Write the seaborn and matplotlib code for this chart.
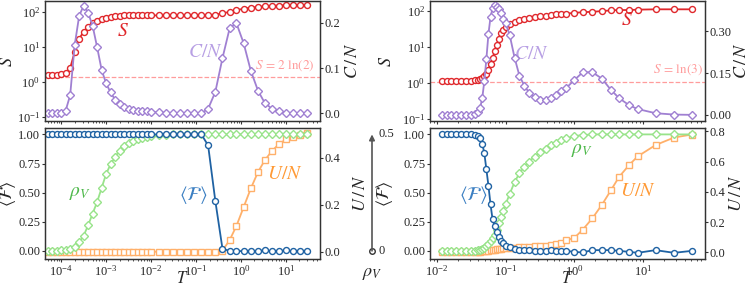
import numpy as np
import matplotlib
matplotlib.use('Agg')
import matplotlib.pyplot as plt
import matplotlib.ticker as mticker
import seaborn as sns

sns.set_theme(style='ticks')
plt.rcParams['font.family'] = ['Liberation Serif', 'DejaVu Serif']
plt.rcParams['mathtext.fontset'] = 'stix'

# ---------------- data ----------------
# left panel, log10(T)
LOGT_L = [-4.3, -4.2, -4.1, -4.0, -3.9, -3.8, -3.7, -3.6, -3.5, -3.4, -3.3, -3.2,
          -3.1, -3.0, -2.9, -2.8, -2.7, -2.6, -2.5, -2.4, -2.3, -2.2, -2.1,
          -1.99, -1.83, -1.67, -1.51, -1.36, -1.20, -1.04, -0.88, -0.73, -0.57,
          -0.41, -0.25, -0.10, 0.06, 0.22, 0.38, 0.53, 0.69, 0.85, 1.01, 1.16,
          1.32, 1.48]
S_L = [1.58, 1.58, 1.58, 1.66, 1.82, 2.5, 7.2, 17, 27.5, 37, 47, 54, 62, 68, 72,
       76, 78, 79.4, 79.4, 79.4, 79.4, 79.4, 79.4,
       79.4, 79.4, 80, 80, 80, 80.5, 81, 81, 81, 83, 91, 100, 112, 123, 132, 138,
       145, 148, 151, 155, 155, 155, 155]
C_L = [0.0, 0.0, 0.0, 0.001, 0.006, 0.04, 0.15, 0.215, 0.238, 0.222, 0.193, 0.146,
       0.096, 0.066, 0.046, 0.03, 0.02, 0.014, 0.01, 0.008, 0.006, 0.005, 0.004,
       0.003, 0.002, 0.001, 0.0, 0.0, 0.0, 0.0, 0.0, 0.01, 0.047, 0.122, 0.188,
       0.199, 0.155, 0.094, 0.05, 0.023, 0.01, 0.004, 0.001, 0.0, 0.0, 0.0]
F_L = [1.0] * 23 + [1.0, 1.0, 1.0, 1.0, 1.0, 1.0, 1.0, 1.0, 0.906, 0.43, 0.017,
                    0.0, -0.005, 0.0, -0.004, 0.0, 0.003, -0.003, 0.0, 0.003,
                    -0.002, 0.0, 0.0]
RHO_L = [0.0, 0.0, 0.0, 0.002, 0.004, 0.008, 0.017, 0.036, 0.065, 0.11, 0.16, 0.21,
         0.27, 0.33, 0.372, 0.403, 0.43, 0.45, 0.463, 0.472, 0.479, 0.484, 0.488,
         0.494, 0.497, 0.499] + [0.5] * 20
U_L = [0.0] * 23 + [0.0] * 10 + [0.005, 0.05, 0.11, 0.19, 0.27, 0.34, 0.39, 0.43,
                                 0.46, 0.48, 0.49, 0.5, 0.505]

# right panel, log10(T)
LOGT_R = [-1.93, -1.86, -1.79, -1.72, -1.65, -1.58, -1.51, -1.44,
          -1.40, -1.37, -1.34, -1.31, -1.28, -1.25, -1.22, -1.19, -1.16, -1.13,
          -1.10, -1.07, -1.04,
          -1.00, -0.94, -0.87, -0.80, -0.73, -0.66, -0.58, -0.50, -0.42, -0.34,
          -0.27, -0.19, -0.12,
          0.0, 0.12, 0.26, 0.40, 0.53, 0.65, 0.80, 0.92, 1.18, 1.45, 1.71]
S_R = [1.16] * 7 + [1.19,
       1.23, 1.29, 1.41, 1.58, 1.78, 2.34, 3.39, 5.0, 7.6, 11.5, 16.6, 24, 29.5,
       35.5, 42.7, 49, 56, 60, 64.6, 67.6, 70.8, 74, 77.6, 81.3, 83.2, 85.1,
       89.1, 93.3, 95.5, 100, 104.7, 107, 107, 109.6, 112, 112, 112]
C_R = [0.0] * 7 + [0.004,
       0.012, 0.026, 0.06, 0.12, 0.2, 0.29, 0.35, 0.382, 0.392, 0.388, 0.378, 0.365, 0.345,
       0.328, 0.285, 0.205, 0.141, 0.105, 0.08, 0.063, 0.055, 0.054, 0.062, 0.072, 0.084, 0.096,
       0.125, 0.152, 0.153, 0.13, 0.09, 0.06, 0.034, 0.021, 0.006, 0.001, 0.0]
F_R = [1.0] * 7 + [0.995,
       0.985, 0.965, 0.92, 0.84, 0.7, 0.56, 0.4, 0.27, 0.21, 0.165, 0.115, 0.085, 0.064,
       0.045, 0.03, 0.018, 0.01, 0.005, 0.003, 0.002, 0.0, 0.002, 0.006, 0.0, 0.0, 0.0,
       -0.009, -0.014, 0.006, 0.006, 0.006, 0.0, -0.009, -0.017, 0.006, -0.017, 0.0]
RHO_R = [0.0] * 8 + [
       0.0015, 0.003, 0.006, 0.011, 0.019, 0.03, 0.043, 0.055, 0.07, 0.09, 0.12, 0.145, 0.17,
       0.2, 0.245, 0.295, 0.333, 0.36, 0.383, 0.405, 0.423, 0.438, 0.453, 0.465, 0.475, 0.483,
       0.493, 0.497, 0.5, 0.5, 0.5, 0.5, 0.5, 0.5, 0.5, 0.5, 0.5]
U_R = [0.0, 0.0, 0.0, 0.0, 0.0, 0.001, 0.002, 0.003,
       0.003, 0.005, 0.007, 0.009, 0.011, 0.013, 0.015, 0.017, 0.019, 0.021, 0.023, 0.025, 0.027,
       0.03, 0.032, 0.033, 0.035, 0.037, 0.039, 0.041, 0.043, 0.045, 0.048, 0.055, 0.064, 0.08,
       0.097, 0.15, 0.225, 0.315, 0.41, 0.5, 0.58, 0.635, 0.71, 0.76, 0.78]

S_LINE_L = 2 * np.log(2)
S_LINE_R = np.log(3)

# ---------------- style ----------------
RED = '#e0282c'
PURPLE = '#a080d2'
PURPLE_TXT = '#b8a0e4'
BLUE = '#1f62a3'
BLUE_TXT = '#3b7fc2'
GREEN = '#98e38a'
GREEN_TXT = '#4db84a'
ORANGE = '#ffb06a'
ORANGE_TXT = '#ff9a36'
DASH = '#ff9c9c'
SPINE = '#333333'
TICK_FS = 9

W, H = 747, 286
fig = plt.figure(figsize=(W / 100, H / 100), dpi=100)


def px_box(x0, y0, x1, y1):
    return [x0 / W, 1 - y1 / H, (x1 - x0) / W, (y1 - y0) / H]


def draw(ax, logt, y, color, marker, ms=4.3, lw=1.3):
    sns.lineplot(x=10 ** np.array(logt), y=y, ax=ax, color=color, marker=marker,
                 markersize=ms, markerfacecolor='white', markeredgecolor=color,
                 markeredgewidth=1.0, linewidth=lw, estimator=None, sort=False,
                 legend=False)


def style(ax):
    for sp in ax.spines.values():
        sp.set_color(SPINE)
        sp.set_linewidth(0.9)
    ax.tick_params(which='major', direction='out', length=2.5, width=0.8,
                   labelsize=TICK_FS, color=SPINE, pad=1.0)
    ax.tick_params(which='minor', direction='out', length=1.6, width=0.6, color=SPINE)


def build(x0, x1, xlim, logt, S, C, F, RHO, U, slim, clim, cticks, flim, ulim, uticks,
          s_line, s_line_txt, texts, lab_x):
    ax_t = fig.add_axes(px_box(x0, 1, x1, 121))
    ax_b = fig.add_axes(px_box(x0, 128, x1, 259), sharex=ax_t)
    for ax in (ax_t, ax_b):
        ax.set_xscale('log')
    ax_t.set_yscale('log')

    # top: S (log) and C/N (twin)
    ax_t.axhline(s_line, color=DASH, lw=0.9, ls='--', zorder=1)
    draw(ax_t, logt, S, RED, 'o')
    ax_c = ax_t.twinx()
    draw(ax_c, logt, C, PURPLE, 'D', ms=3.9)
    ax_t.set_ylim(*slim)
    ax_c.set_ylim(*clim)
    ax_c.set_yticks(cticks)
    ax_t.yaxis.set_major_locator(mticker.LogLocator(base=10, numticks=10))
    ax_t.yaxis.set_minor_locator(mticker.NullLocator())
    ax_t.set_xlim(*xlim)
    ax_t.set_ylabel('$S$', fontsize=13)
    ax_c.set_ylabel(r'$C\,/\,N$', fontsize=13)
    plt.setp(ax_t.get_xticklabels(), visible=False)

    # bottom: <F>, rho_V (hidden twin, shares the arrow scale) and U/N (twin)
    ax_u = ax_b.twinx()
    ax_r = ax_b.twinx()
    draw(ax_u, logt, U, ORANGE, 's', ms=4.3)
    draw(ax_r, logt, RHO, GREEN, 'D', ms=3.9)
    draw(ax_b, logt, F, BLUE, 'o')
    ax_b.set_zorder(ax_u.get_zorder() + 2)
    ax_b.patch.set_visible(False)
    ax_b.set_ylim(*flim)
    ax_r.set_ylim(flim[0] * 0.5, flim[1] * 0.5)
    ax_r.axis('off')
    ax_u.set_ylim(*ulim)
    ax_u.set_yticks(uticks)
    ax_b.set_yticks([0, 0.25, 0.5, 0.75, 1.0])
    ax_b.yaxis.set_major_formatter(mticker.FormatStrFormatter('%.2f'))
    ax_u.yaxis.set_major_formatter(mticker.FormatStrFormatter('%.1f'))
    ax_b.set_xlabel('$T$', fontsize=12, va='center')
    ax_b.set_ylabel(r'$\langle\mathcal{F}\rangle$', fontsize=13)
    ax_u.set_ylabel(r'$U\,/\,N$', fontsize=13)
    ax_b.xaxis.set_major_locator(mticker.LogLocator(base=10, numticks=12))
    ax_b.xaxis.set_minor_locator(mticker.LogLocator(base=10, subs=np.arange(2, 10) * 0.1,
                                                    numticks=12))

    # axis-label placement (axes fractions)
    ax_b.xaxis.set_label_coords(0.5, -0.155)
    ax_t.yaxis.set_label_coords(lab_x[0], 0.5)
    ax_b.yaxis.set_label_coords(lab_x[1], 0.5)
    ax_c.yaxis.set_label_coords(lab_x[2], 0.5)
    ax_u.yaxis.set_label_coords(lab_x[3], 0.5)

    for ax in (ax_t, ax_c, ax_b, ax_u):
        style(ax)

    # in-plot labels
    ax_t.text(*texts['s_line'], s_line_txt, transform=ax_t.transAxes,
              color=DASH, fontsize=9.5, ha='center', va='bottom')
    ax_t.text(*texts['S'], '$S$', transform=ax_t.transAxes, color=RED, fontsize=14,
              ha='center', va='center')
    ax_t.text(*texts['C'], r'$C/N$', transform=ax_t.transAxes, color=PURPLE_TXT,
              fontsize=14, ha='center', va='center')
    ax_b.text(*texts['rho'], r'$\rho_V$', transform=ax_b.transAxes, color=GREEN_TXT,
              fontsize=14, ha='center', va='center')
    ax_b.text(*texts['F'], r'$\langle\mathcal{F}\rangle$', transform=ax_b.transAxes,
              color=BLUE_TXT, fontsize=14, ha='center', va='center')
    ax_b.text(*texts['U'], r'$U/N$', transform=ax_b.transAxes, color=ORANGE_TXT,
              fontsize=14, ha='center', va='center')
    return ax_b


build(45, 320, (10 ** -4.36, 10 ** 1.76), LOGT_L, S_L, C_L, F_L, RHO_L, U_L,
      (10 ** -1.11, 10 ** 2.31), (-0.017, 0.248), [0.0, 0.1, 0.2],
      (-0.07, 1.055), (-0.031, 0.528), [0.0, 0.2, 0.4],
      S_LINE_L, r'$S\,=\,2\ \ln(2)$',
      {'s_line': (0.873, 0.40), 'S': (0.284, 0.748), 'C': (0.582, 0.571),
       'rho': (0.127, 0.503), 'F': (0.538, 0.49), 'U': (0.873, 0.642)},
      (-0.105, -0.1, 1.086, 1.116))

build(430, 705, (10 ** -2.1, 10 ** 1.9), LOGT_R, S_R, C_R, F_R, RHO_R, U_R,
      (10 ** -1.05, 10 ** 2.28), (-0.022, 0.408), [0.0, 0.15, 0.3],
      (-0.07, 1.055), (-0.043, 0.823), [0.0, 0.2, 0.4, 0.6, 0.8],
      S_LINE_R, r'$S\,=\,\ln(3)$',
      {'s_line': (0.902, 0.37), 'S': (0.715, 0.834), 'C': (0.37, 0.555),
       'rho': (0.552, 0.832), 'F': (0.157, 0.49), 'U': (0.757, 0.515)},
      (-0.127, -0.127, 1.1, 1.085))

# shared rho_V scale arrow between the panels
ax_arr = fig.add_axes(px_box(362, 128, 382, 259))
ax_arr.set_xlim(-1, 1)
ax_arr.set_ylim(-0.07 * 0.5, 1.055 * 0.5)
ax_arr.axis('off')
ax_arr.annotate('', xy=(0, 0.5), xytext=(0, 0),
                arrowprops=dict(arrowstyle='-|>', color='#555555', lw=1.2,
                                mutation_scale=8, shrinkA=0, shrinkB=0))
ax_arr.plot([0], [0], 'o', mfc='white', mec='#333333', ms=4, mew=1.0, clip_on=False)
ax_arr.annotate('0.5', (0, 0.5), xytext=(5, 0), textcoords='offset points',
                ha='left', va='center', fontsize=TICK_FS, annotation_clip=False)
ax_arr.annotate('0', (0, 0), xytext=(5, 0), textcoords='offset points',
                ha='left', va='center', fontsize=TICK_FS, annotation_clip=False)
ax_arr.annotate(r'$\rho_V$', (0, 0), xytext=(0, -16), textcoords='offset points',
                ha='center', va='center', fontsize=13, annotation_clip=False)

fig.savefig('out.png', dpi=100)
